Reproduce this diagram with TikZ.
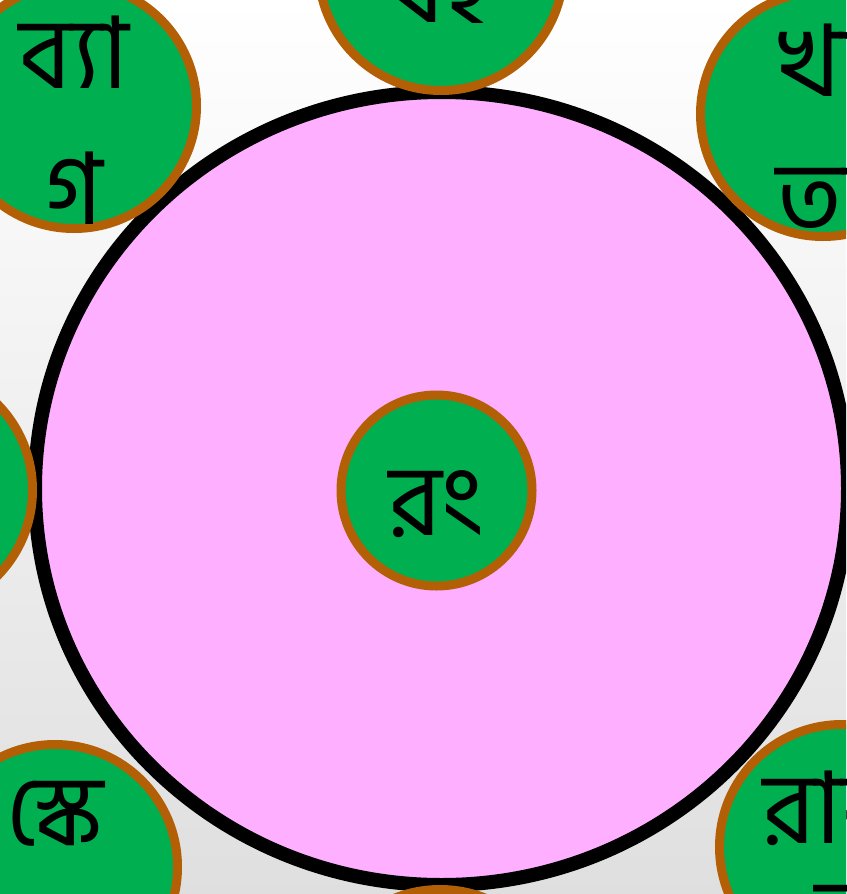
\documentclass[tikz,border=0pt]{standalone}
\usepackage{fontspec}
\newfontfamily\bn[Script=Bengali]{Hind Siliguri}
\usetikzlibrary{shapes.geometric}

\definecolor{ringfill}{HTML}{FFAFFF}
\definecolor{itemfill}{HTML}{00B050}
\definecolor{itemedge}{HTML}{B35F06}

\tikzset{
  ring/.style={ellipse, draw=black, line width=14pt, fill=ringfill,
    minimum width=813pt, minimum height=793pt, inner sep=0pt},
  item/.style={circle, draw=itemedge, line width=9pt, fill=itemfill,
    minimum size=245pt, inner sep=0pt},
  word/.style={font=\bn\fontsize{100}{136}\selectfont, align=center,
    inner sep=0pt, yshift=-14pt},
}

\begin{document}
\begin{tikzpicture}[x=1pt,y=-1pt]
   \useasboundingbox (0,0) rectangle (846,894);
   \clip (0,0) rectangle (846,894);
   \shade[top color=white, bottom color=gray!25] (0,0) rectangle (846,894);

   % big ring and hub
   \node[ring] (ring) at (441.5,488.5) {};
   \node[item, minimum size=191pt] (hub) at (436.5,490.5) {};

   % items round the ring
   \node[item] (top) at (441,-32) {};
   \node[item] (topleft) at (74,106) {};
   \node[item] (topright) at (823,114) {};
   \node[item] (left) at (-90,490) {};
   \node[item] (botleft) at (55,867) {};
   \node[item] (botright) at (842,847) {};
   \node[item] (bot) at (440,1012) {};

   % words
   \node[word] at (hub) {রং};
   \node[word] at (top) {বই};
   \node[word] at (topleft) {ব্যা\\গ};
   \node[word] at (topright) {খা\\তা};
   \node[word] at (botleft) {স্কে\\ল};
   \node[word] at (botright) {রাবা\\[-30pt]র};
\end{tikzpicture}
\end{document}
